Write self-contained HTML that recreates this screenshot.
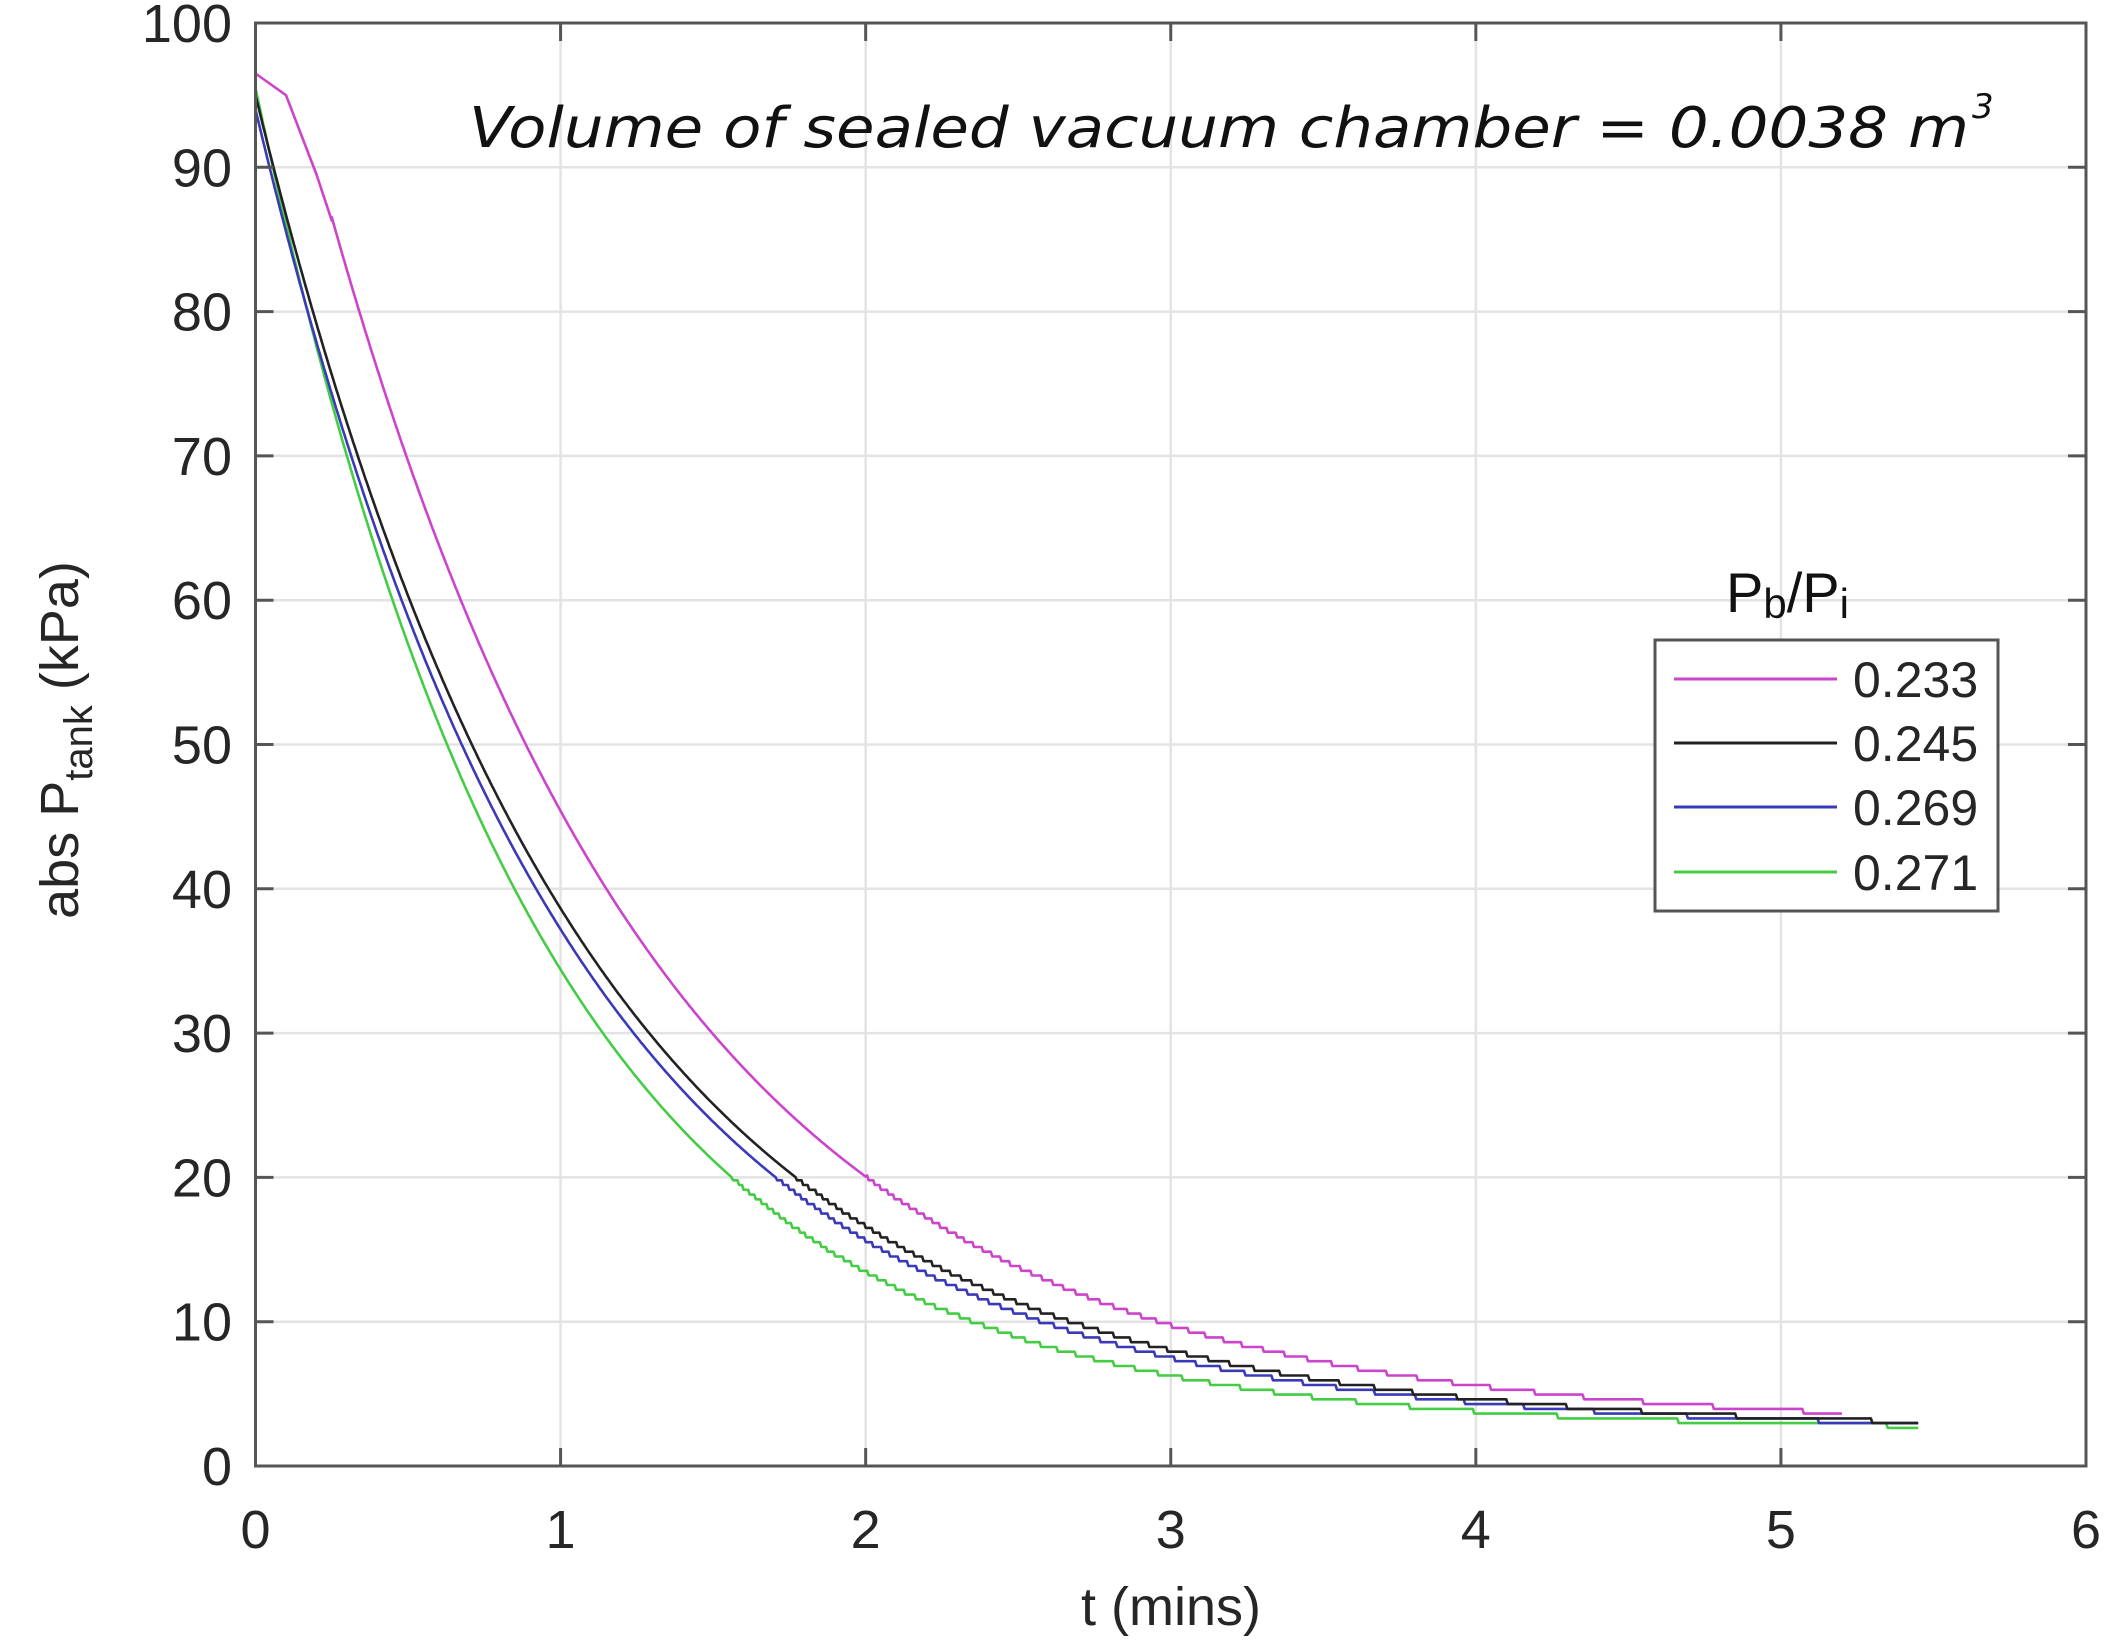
<!DOCTYPE html>
<html><head><meta charset="utf-8"><style>
html,body{margin:0;padding:0;background:#fff;}
svg{display:block;}
text{font-family:"Liberation Sans",Arial,sans-serif;fill:#262626;}
</style></head><body>
<svg id="s" width="2120" height="1641" viewBox="0 0 2120 1641" xmlns="http://www.w3.org/2000/svg">
<g id="grid" stroke="#e3e3e3" stroke-width="2.5"></g>
<g id="curves" fill="none" stroke-width="2.6" stroke-linejoin="round"></g>
<rect x="255.5" y="23" width="1830.5" height="1443" fill="none" stroke="#555" stroke-width="3"/>
<g id="ticks" stroke="#555" stroke-width="3"></g>
<g id="labels" font-size="54"></g>
<text x="1171" y="1625" font-size="54" text-anchor="middle">t (mins)</text>
<text transform="translate(78,740) rotate(-90)" font-size="54" text-anchor="middle">abs P<tspan font-size="40" dy="14">tank</tspan><tspan dy="-14"> (kPa)</tspan></text>
<text x="469" y="147" font-size="56" font-style="italic" style="font-family:'DejaVu Sans',sans-serif;fill:#111" textLength="1500" lengthAdjust="spacingAndGlyphs">Volume of sealed vacuum chamber = 0.0038 m</text>
<text x="1972" y="118" font-size="34" font-style="italic" style="font-family:'DejaVu Sans',sans-serif;fill:#111">3</text>
<text x="1726" y="612" font-size="56" style="fill:#111">P<tspan font-size="42" dy="6">b</tspan><tspan font-size="56" dy="-6">/P</tspan><tspan font-size="42" dy="6">i</tspan></text>
<rect x="1655" y="640" width="343" height="271" fill="#fff" stroke="#555" stroke-width="3"/>
<g stroke-width="3">
<line x1="1674" y1="679" x2="1837" y2="679" stroke="#cc44cc"/>
<line x1="1674" y1="743" x2="1837" y2="743" stroke="#222"/>
<line x1="1674" y1="807" x2="1837" y2="807" stroke="#3a3ab8"/>
<line x1="1674" y1="872" x2="1837" y2="872" stroke="#44cc44"/>
</g>
<g font-size="50">
<text x="1853" y="697">0.233</text>
<text x="1853" y="761">0.245</text>
<text x="1853" y="825">0.269</text>
<text x="1853" y="890">0.271</text>
</g>
</svg>
<script>
var L=255.5,R=2086,T=23,B=1466,ux=(R-L)/6,uy=(B-T)/100;
function X(t){return L+t*ux;} function Y(p){return B-p*uy;}
var NS="http://www.w3.org/2000/svg";
function el(p,n,a,txt){var e=document.createElementNS(NS,n);for(var k in a)e.setAttribute(k,a[k]);if(txt!==undefined)e.textContent=txt;p.appendChild(e);return e;}
var g=document.getElementById('grid'),tk=document.getElementById('ticks'),lb=document.getElementById('labels');
for(var i=1;i<6;i++){el(g,'line',{x1:X(i),y1:T,x2:X(i),y2:B});}
for(var j=1;j<10;j++){el(g,'line',{x1:L,y1:Y(j*10),x2:R,y2:Y(j*10)});}
for(var i=0;i<=6;i++){el(tk,'line',{x1:X(i),y1:B,x2:X(i),y2:B-18});el(tk,'line',{x1:X(i),y1:T,x2:X(i),y2:T+18});
 el(lb,'text',{x:X(i),y:1548,'text-anchor':'middle'},String(i));}
for(var j=0;j<=10;j++){el(tk,'line',{x1:L,y1:Y(j*10),x2:L+18,y2:Y(j*10)});el(tk,'line',{x1:R,y1:Y(j*10),x2:R-18,y2:Y(j*10)});
 el(lb,'text',{x:232,y:Y(j*10)+19,'text-anchor':'end'},String(j*10));}
var c=document.getElementById('curves');
function curve(col,f,tend,pre){var d='';var first=true;
 if(pre){pre.forEach(function(p){d+=(first?'M':'L')+X(p[0]).toFixed(1)+','+Y(p[1]).toFixed(1);first=false;});}
 var t0=pre?pre[pre.length-1][0]:0;
 for(var t=t0;t<=tend;t+=0.005){var p=f(t);if(p<20)p=Math.round(p/0.33)*0.33;
  d+=(first?'M':'L')+X(t).toFixed(1)+','+Y(p).toFixed(1);first=false;}
 el(c,'path',{d:d,stroke:col});}
curve('#44cc44',function(t){return 2.5+93*Math.exp(-1.07*t);},5.45);
curve('#3a3ab8',function(t){return 2.5+91.5*Math.exp(-0.97*t);},5.45);
curve('#222',function(t){return 2.5+92.5*Math.exp(-0.94*t);},5.45);
curve('#cc44cc',function(t){return 2.7+105*Math.exp(-0.9*t);},5.2,[[0,96.5],[0.1,95],[0.2,89.5],[0.25,86.3]]);
</script>
</body></html>
